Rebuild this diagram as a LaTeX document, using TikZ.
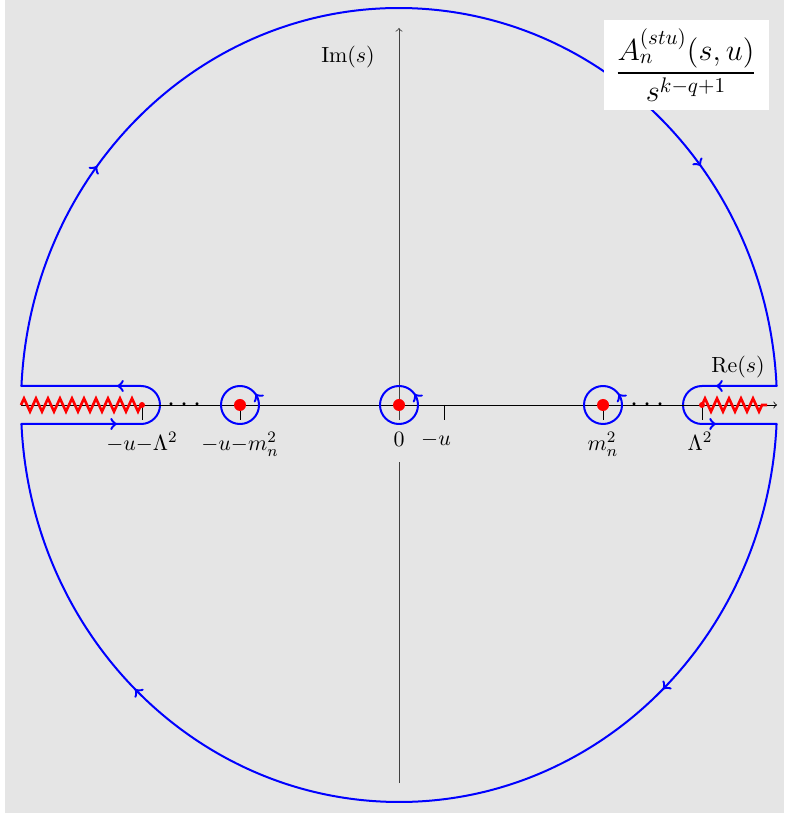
\documentclass[tikz,border=0pt,11pt]{standalone}
\usepackage{amsmath,amssymb}
\usetikzlibrary{decorations.markings, decorations.pathmorphing}

\begin{document}
\begin{tikzpicture}[
    x=0.5pt, y=0.5pt,
    contour/.style={blue, line width=1pt, line cap=round, line join=round},
    arrowat/.style={postaction={decorate, decoration={markings, mark=at position #1 with {\arrow[line width=1.2pt]{>}}}}},
    cut/.style={red, line width=1.3pt, decorate, decoration={zigzag, segment length=6pt, amplitude=3.3pt}},
    pole/.style={circle, fill=red, inner sep=0pt, minimum size=6pt},
    branch/.style={circle, fill=red, inner sep=0pt, minimum size=3pt},
    lbl/.style={anchor=north, inner sep=3pt},
    >=to
]
% frame
\useasboundingbox (-399,-413) rectangle (385,405);
\fill[gray!20] (-394,-408) rectangle (385,405);

\coordinate (o) at (0,0);

% large contour, clockwise
\draw[contour, arrowat=0.2, arrowat=0.8] (o) ++(177.26:378 and 397)
    arc[start angle=177.26, end angle=2.74, x radius=378, y radius=397];
\draw[contour, arrowat=0.25, arrowat=0.75] (o) ++(-2.74:378 and 397)
    arc[start angle=-2.74, end angle=-177.26, x radius=378, y radius=397];

% keyholes round the cuts
\draw[contour, arrowat=0.32, arrowat=0.68] (-377.6,-19) -- (-258,-19)
    arc[start angle=-90, end angle=90, radius=19] -- (-377.6,19);
\draw[contour, arrowat=0.29, arrowat=0.71] (377.6,19) -- (303,19)
    arc[start angle=90, end angle=270, radius=19] -- (377.6,-19);

% axes
\draw[->] (-378,0) -- (378,0);
\draw[black!75] (0,-378) -- (0,-57);
\draw[black!75, ->] (0,-15) -- (0,377);

% ticks
\foreach \xt in {-257,-159,45,204,303}
    \draw (\xt,0) -- (\xt,-15);

% branch cuts
\draw[cut] (-378,0) -- (-257,0);
\draw[cut] (303,0) -- (368,0);
\node[branch] (bL) at (-257,0) {};
\node[branch] (bR) at (303,0) {};

% poles
\node[pole] (pL) at (-159,0) {};
\node[pole] (p0) at (0,0) {};
\node[pole] (pR) at (204,0) {};
\foreach \p in {pL,p0,pR}
    \draw[contour, arrowat=0.1] (\p.center) ++(19,0) arc[start angle=0, end angle=360, radius=19];

\node[anchor=base] (dotsL) at (-212,-7) {\Large$\cdots$};
\node[anchor=base] (dotsR) at (251,-7) {\Large$\cdots$};

% labels
\node[lbl] (lamL) at (-257,-21) {$-u{-}\Lambda^2$};
\node[lbl] (mL) at (-159,-21) {$-u{-}m_n^2$};
\node[lbl] (zero) at (0,-21) {$0$};
\node[lbl] (mu) at (37,-21) {$-u$};
\node[lbl] (mR) at (204,-21) {$m_n^2$};
\node[lbl] (lamR) at (301,-21) {$\Lambda^2$};
\node (re) at (339,38) {$\mathrm{Re}(s)$};
\node (im) at (-51,348) {$\mathrm{Im}(s)$};
\node[fill=white, minimum width=78.2pt, minimum height=42.7pt, scale=1.055, transform shape] (amp) at (287,340)
    {\Large$\dfrac{A_n^{(stu)}(s,u)}{s^{k-q+1}}$};
\end{tikzpicture}
\end{document}
